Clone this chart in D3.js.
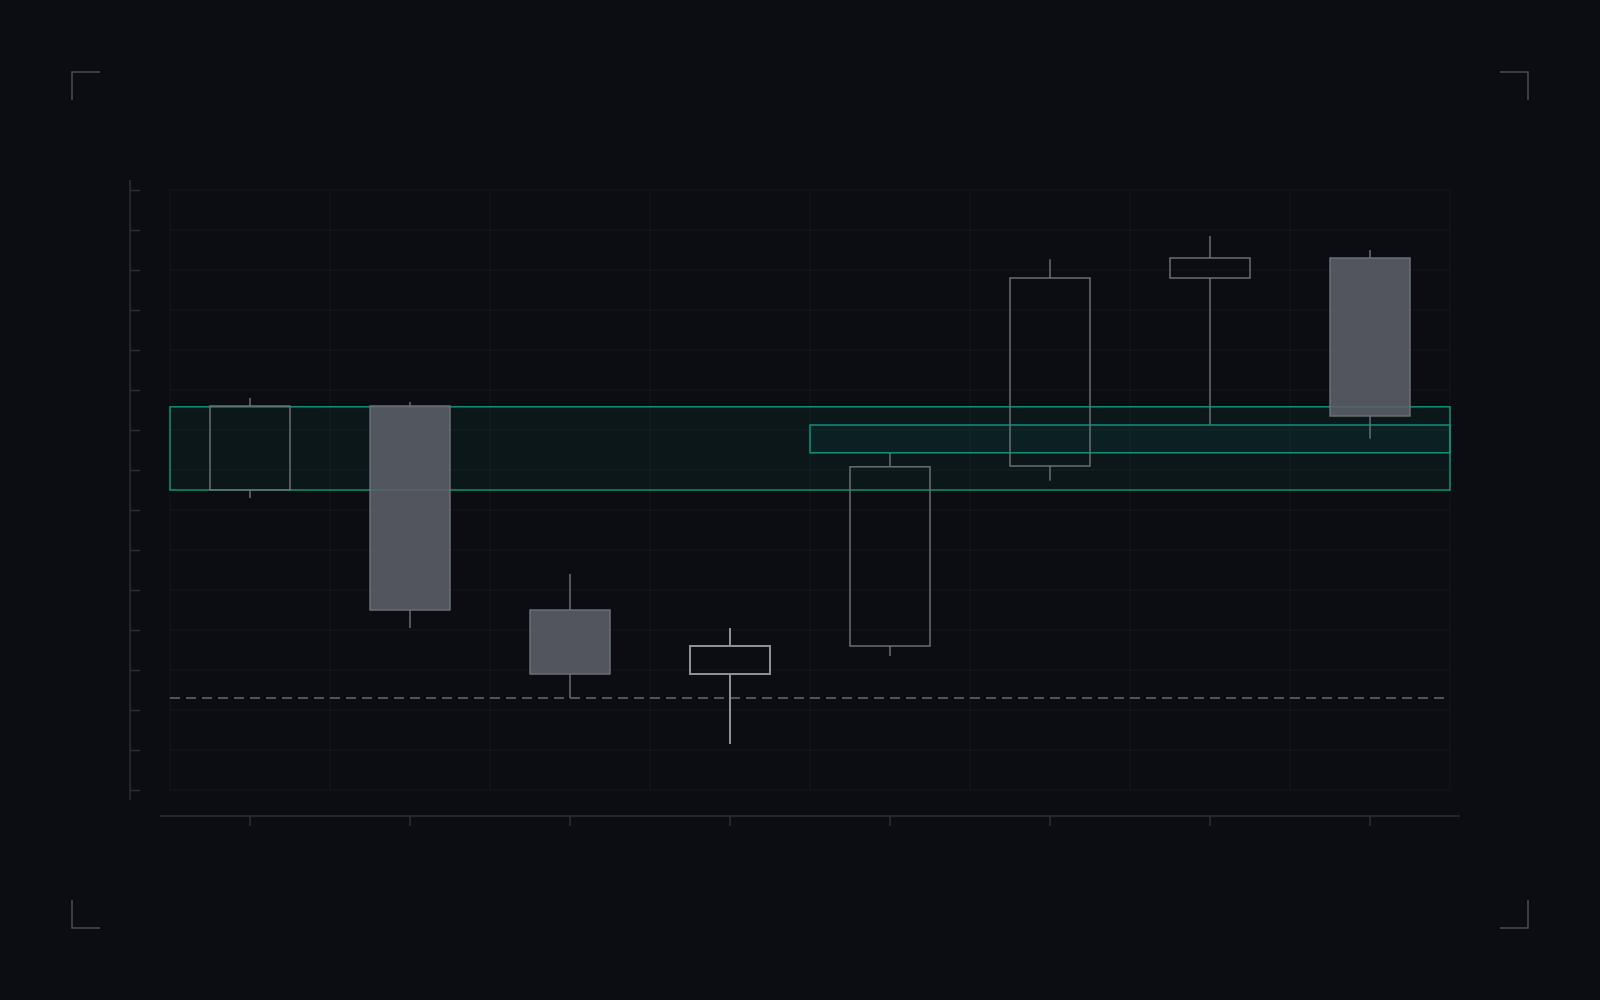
<!DOCTYPE html>
<html>
<head>
<meta charset="utf-8">
<script src="https://cdn.jsdelivr.net/npm/d3@7"></script>
<style>
  html, body { margin: 0; padding: 0; background: #0b0d12; }
  svg { display: block; }
</style>
</head>
<body>
<script>
// candles, one per column
var categories = ["c1", "c2", "c3", "c4", "c5", "c6", "c7", "c8"];
var opens  = [7.5, 9.6, 4.5, 2.9, 3.6, 8.1, 12.8, 13.3];
var highs  = [9.8, 9.7, 5.4, 4.05, 8.43, 13.27, 13.85, 13.5];
var lows   = [7.3, 4.05, 2.3, 1.15, 3.35, 7.73, 9.13, 8.78];
var closes = [9.6, 4.5, 2.9, 3.6, 8.08, 12.8, 13.3, 9.35];
var highlighted = [false, false, false, true, false, false, false, false];

// y ticks / grid
var yTicks = d3.range(0, 16);

// zones: [from category, low, high]
var zoneStart = ["c1", "c5"];
var zoneLow   = [7.5, 8.43];
var zoneHigh  = [9.58, 9.125];
var dashedLevel = 2.3;

var W = 1600, H = 1000;
var svg = d3.select("body").append("svg")
    .attr("width", W)
    .attr("height", H)
    .style("background-color", "#0b0d12");

var x = d3.scaleBand().domain(categories).range([170, 1450]).paddingInner(0).paddingOuter(0);
var y = d3.scaleLinear().domain([0, 15]).range([790, 190]);
var bodyW = x.bandwidth() * 0.5;

// corner brackets
var corners = [[72, 72, 1, 1], [1528, 72, -1, 1], [72, 928, 1, -1], [1528, 928, -1, -1]];
corners.forEach(function (c) {
    svg.append("path")
        .attr("d", "M" + (c[0] + c[2] * 28) + "," + c[1] + "H" + c[0] + "V" + (c[1] + c[3] * 28))
        .attr("fill", "none")
        .attr("stroke", "#4a4f58")
        .attr("stroke-width", 1.5);
});

// grid
var grid = svg.append("g");
grid.selectAll("line.h").data(yTicks).enter().append("line")
    .attr("x1", 170).attr("x2", 1450)
    .attr("y1", function (d) { return y(d); })
    .attr("y2", function (d) { return y(d); })
    .attr("stroke", "#16191f").attr("stroke-width", 1);
grid.selectAll("line.v").data(d3.range(0, categories.length + 1)).enter().append("line")
    .attr("x1", function (i) { return 170 + i * x.step(); })
    .attr("x2", function (i) { return 170 + i * x.step(); })
    .attr("y1", 190).attr("y2", 790)
    .attr("stroke", "#14171c").attr("stroke-width", 1);

// left axis
var yAxis = svg.append("g")
    .attr("transform", "translate(130,0)")
    .call(d3.axisRight(y).tickValues(yTicks).tickSize(10).tickFormat(""));
yAxis.select(".domain").remove();
yAxis.selectAll("line").attr("stroke", "#2b3038").attr("stroke-width", 1.5);
svg.append("line").attr("x1", 130).attr("x2", 130).attr("y1", 180).attr("y2", 800)
    .attr("stroke", "#2b3038").attr("stroke-width", 1.5);

// bottom axis
var xAxis = svg.append("g")
    .attr("transform", "translate(0,816)")
    .call(d3.axisBottom(x).tickSize(10).tickSizeOuter(0).tickFormat(""));
xAxis.select(".domain").remove();
xAxis.selectAll("line").attr("stroke", "#2b3038").attr("stroke-width", 1.5);
svg.append("line").attr("x1", 160).attr("x2", 1460).attr("y1", 816).attr("y2", 816)
    .attr("stroke", "#2b3038").attr("stroke-width", 1.5);

// zones
var zones = svg.append("g");
zoneStart.forEach(function (s, i) {
    zones.append("rect")
        .attr("x", x(s))
        .attr("y", y(zoneHigh[i]))
        .attr("width", 1450 - x(s))
        .attr("height", y(zoneLow[i]) - y(zoneHigh[i]))
        .attr("fill", "rgba(18,160,130,0.07)")
        .attr("stroke", "#11937b")
        .attr("stroke-width", 1.5);
});

// dashed level
svg.append("line")
    .attr("x1", 170).attr("x2", 1450)
    .attr("y1", y(dashedLevel)).attr("y2", y(dashedLevel))
    .attr("stroke", "#50545c")
    .attr("stroke-width", 2)
    .attr("stroke-dasharray", "10 6");

// candles
var cx = function (d) { return x(d) + x.bandwidth() / 2; };
var strokeOf = function (d, i) { return highlighted[i] ? "#8c9097" : "#6b6f76"; };
var widthOf = function (d, i) { return highlighted[i] ? 2 : 1.5; };
var candles = svg.append("g").selectAll("g").data(categories).enter().append("g");
// upper wick
candles.append("line")
    .attr("x1", cx).attr("x2", cx)
    .attr("y1", function (d, i) { return y(highs[i]); })
    .attr("y2", function (d, i) { return y(Math.max(opens[i], closes[i])); })
    .attr("stroke", strokeOf).attr("stroke-width", widthOf);
// lower wick
candles.append("line")
    .attr("x1", cx).attr("x2", cx)
    .attr("y1", function (d, i) { return y(Math.min(opens[i], closes[i])); })
    .attr("y2", function (d, i) { return y(lows[i]); })
    .attr("stroke", strokeOf).attr("stroke-width", widthOf);
candles.append("rect")
    .attr("x", function (d) { return cx(d) - bodyW / 2; })
    .attr("y", function (d, i) { return y(Math.max(opens[i], closes[i])); })
    .attr("width", bodyW)
    .attr("height", function (d, i) { return Math.abs(y(opens[i]) - y(closes[i])); })
    .attr("fill", function (d, i) { return closes[i] < opens[i] ? "rgba(92,96,104,0.88)" : "none"; })
    .attr("stroke", strokeOf).attr("stroke-width", widthOf);
</script>
</body>
</html>
